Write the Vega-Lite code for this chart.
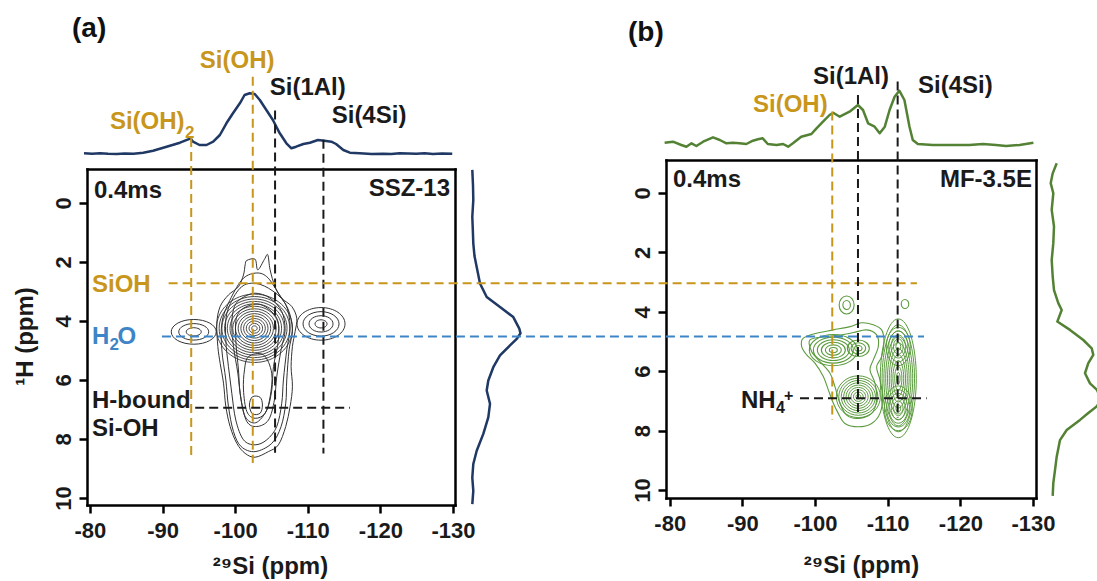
{
"$schema": "https://vega.github.io/schema/vega-lite/v6.json",
"width": 1097, "height": 581,
"autosize": {"type": "none"},
"padding": 0,
"background": "white",
"config": {
  "view": {"stroke": null},
  "font": "Liberation Sans",
  "axis": {"domainColor": "#000", "domainWidth": 2.5, "domainCap": "square", "grid": false, "tickColor": "#000", "tickWidth": 2.5, "tickSize": 8, "labelFont": "Liberation Sans", "labelFontSize": 22, "labelFontWeight": "bold", "labelColor": "#1a1a1a", "labelFlush": false, "labelOverlap": false, "labelBound": false, "titleFont": "Liberation Sans", "titleFontSize": 24, "titleFontWeight": "bold", "titleColor": "#1a1a1a"}
},
"resolve": {"scale": {"x": "independent", "y": "independent", "size": "independent", "color": "independent"}, "axis": {"x": "independent", "y": "independent"}},
"datasets": {
  "tailA": [
    {"c":1,"i":1,"x":-101.61,"y":1.95},{"c":1,"i":2,"x":-102.75,"y":1.91},{"c":1,"i":3,"x":-103.12,"y":2.27},{"c":1,"i":4,"x":-104.04,"y":1.91},{"c":1,"i":5,"x":-104.5,"y":1.76},{"c":1,"i":6,"x":-104.82,"y":2.27},{"c":1,"i":7,"x":-105.5,"y":2.84},{"c":1,"i":8,"x":-106.42,"y":3.23},{"c":1,"i":9,"x":-107.8,"y":3.51},{"c":1,"i":10,"x":-108.49,"y":3.91},{"c":1,"i":11,"x":-108.26,"y":4.36},{"c":1,"i":12,"x":-107.89,"y":4.87},{"c":1,"i":13,"x":-107.71,"y":5.55},{"c":1,"i":14,"x":-107.89,"y":6.23},{"c":1,"i":15,"x":-107.57,"y":6.9},{"c":1,"i":16,"x":-106.97,"y":7.58},{"c":1,"i":17,"x":-105.96,"y":8.2},{"c":1,"i":18,"x":-104.59,"y":8.43},{"c":1,"i":19,"x":-102.75,"y":8.62},{"c":1,"i":20,"x":-101.38,"y":8.49},{"c":1,"i":21,"x":-100.23,"y":8.15},{"c":1,"i":22,"x":-99.31,"y":7.58},{"c":1,"i":23,"x":-98.72,"y":6.9},{"c":1,"i":24,"x":-98.4,"y":6.11},{"c":1,"i":25,"x":-97.94,"y":5.44},{"c":1,"i":26,"x":-97.62,"y":4.87},{"c":1,"i":27,"x":-97.48,"y":4.08},{"c":1,"i":28,"x":-97.94,"y":3.51},{"c":1,"i":29,"x":-99.08,"y":3.12},{"c":1,"i":30,"x":-100.46,"y":2.84},{"c":1,"i":31,"x":-101.15,"y":2.44},{"c":1,"i":32,"x":-101.38,"y":2.1},
    {"c":6,"i":1,"x":-100.92,"y":2.61},{"c":6,"i":2,"x":-102.75,"y":2.38},{"c":6,"i":3,"x":-104.36,"y":2.5},{"c":6,"i":4,"x":-105.96,"y":3.06},{"c":6,"i":5,"x":-107.34,"y":3.63},{"c":6,"i":6,"x":-107.89,"y":4.31},{"c":6,"i":7,"x":-107.43,"y":4.98},{"c":6,"i":8,"x":-107.11,"y":6.0},{"c":6,"i":9,"x":-106.97,"y":6.79},{"c":6,"i":10,"x":-106.33,"y":7.58},{"c":6,"i":11,"x":-105.05,"y":8.15},{"c":6,"i":12,"x":-102.75,"y":8.43},{"c":6,"i":13,"x":-100.83,"y":8.26},{"c":6,"i":14,"x":-99.77,"y":7.75},{"c":6,"i":15,"x":-99.08,"y":6.9},{"c":6,"i":16,"x":-98.72,"y":6.0},{"c":6,"i":17,"x":-98.17,"y":4.98},{"c":6,"i":18,"x":-98.17,"y":4.08},{"c":6,"i":19,"x":-99.08,"y":3.4},
    {"c":2,"i":1,"x":-100.46,"y":2.95},{"c":2,"i":2,"x":-102.29,"y":2.72},{"c":2,"i":3,"x":-104.59,"y":2.89},{"c":2,"i":4,"x":-106.88,"y":3.4},{"c":2,"i":5,"x":-107.57,"y":4.19},{"c":2,"i":6,"x":-107.11,"y":4.98},{"c":2,"i":7,"x":-106.65,"y":6.0},{"c":2,"i":8,"x":-106.42,"y":6.79},{"c":2,"i":9,"x":-105.73,"y":7.58},{"c":2,"i":10,"x":-104.36,"y":8.03},{"c":2,"i":11,"x":-102.75,"y":8.2},{"c":2,"i":12,"x":-101.15,"y":8.03},{"c":2,"i":13,"x":-100.09,"y":7.36},{"c":2,"i":14,"x":-99.54,"y":6.45},{"c":2,"i":15,"x":-99.08,"y":5.55},{"c":2,"i":16,"x":-98.72,"y":4.64},{"c":2,"i":17,"x":-98.86,"y":3.74},
    {"c":3,"i":1,"x":-100.92,"y":3.23},{"c":3,"i":2,"x":-102.75,"y":3.06},{"c":3,"i":3,"x":-104.82,"y":3.23},{"c":3,"i":4,"x":-106.42,"y":3.68},{"c":3,"i":5,"x":-106.88,"y":4.31},{"c":3,"i":6,"x":-106.33,"y":4.98},{"c":3,"i":7,"x":-105.73,"y":5.89},{"c":3,"i":8,"x":-105.41,"y":6.68},{"c":3,"i":9,"x":-104.59,"y":7.36},{"c":3,"i":10,"x":-102.98,"y":7.58},{"c":3,"i":11,"x":-101.61,"y":7.41},{"c":3,"i":12,"x":-100.83,"y":6.68},{"c":3,"i":13,"x":-100.37,"y":5.77},{"c":3,"i":14,"x":-99.77,"y":4.87},{"c":3,"i":15,"x":-99.54,"y":4.08},{"c":3,"i":16,"x":-99.91,"y":3.51},
    {"c":7,"i":1,"x":-101.61,"y":3.51},{"c":7,"i":2,"x":-103.67,"y":3.46},{"c":7,"i":3,"x":-105.73,"y":3.91},{"c":7,"i":4,"x":-105.96,"y":4.64},{"c":7,"i":5,"x":-105.28,"y":5.55},{"c":7,"i":6,"x":-105.05,"y":6.34},{"c":7,"i":7,"x":-104.36,"y":7.02},{"c":7,"i":8,"x":-102.85,"y":7.45},{"c":7,"i":9,"x":-101.38,"y":7.24},{"c":7,"i":10,"x":-100.69,"y":6.45},{"c":7,"i":11,"x":-100.46,"y":5.66},{"c":7,"i":12,"x":-100.09,"y":4.64},{"c":7,"i":13,"x":-100.23,"y":3.85},
    {"c":4,"i":1,"x":-101.84,"y":5.21},{"c":4,"i":2,"x":-103.9,"y":5.15},{"c":4,"i":3,"x":-105.04,"y":5.77},{"c":4,"i":4,"x":-104.82,"y":6.57},{"c":4,"i":5,"x":-104.13,"y":7.13},{"c":4,"i":6,"x":-102.75,"y":7.3},{"c":4,"i":7,"x":-101.61,"y":7.07},{"c":4,"i":8,"x":-101.15,"y":6.34},{"c":4,"i":9,"x":-101.29,"y":5.66},
    {"c":5,"i":1,"x":-102.39,"y":6.57},{"c":5,"i":2,"x":-103.44,"y":6.59},{"c":5,"i":3,"x":-103.76,"y":6.85},{"c":5,"i":4,"x":-103.44,"y":7.13},{"c":5,"i":5,"x":-102.39,"y":7.15},{"c":5,"i":6,"x":-101.97,"y":6.85}
  ],
  "coreA": [
    {"x":-102.66,"y":4.25,"ring":1},{"x":-102.66,"y":4.25,"ring":2},{"x":-102.66,"y":4.25,"ring":3},{"x":-102.66,"y":4.25,"ring":4},{"x":-102.66,"y":4.25,"ring":5},{"x":-102.66,"y":4.25,"ring":6},{"x":-102.66,"y":4.25,"ring":7},{"x":-102.66,"y":4.25,"ring":8},{"x":-102.66,"y":4.25,"ring":9},{"x":-102.66,"y":4.25,"ring":10},{"x":-102.66,"y":4.25,"ring":11},{"x":-102.66,"y":4.25,"ring":12},{"x":-102.66,"y":4.25,"ring":13},{"x":-102.66,"y":4.25,"ring":14}
  ],
  "leftA": [{"x":-94.3,"y":4.37,"ring":1},{"x":-94.3,"y":4.37,"ring":2},{"x":-94.3,"y":4.37,"ring":3}],
  "rightA": [{"x":-111.83,"y":4.1,"ring":1},{"x":-111.83,"y":4.1,"ring":2},{"x":-111.83,"y":4.1,"ring":3},{"x":-111.83,"y":4.1,"ring":4}],
  "envB": [
    {"c":1,"i":1,"x":-98.39,"y":4.89},{"c":1,"i":2,"x":-100.22,"y":4.72},{"c":1,"i":3,"x":-102.52,"y":4.61},{"c":1,"i":4,"x":-104.81,"y":4.5},{"c":1,"i":5,"x":-106.41,"y":4.37},{"c":1,"i":6,"x":-108.02,"y":4.44},{"c":1,"i":7,"x":-109.17,"y":4.61},{"c":1,"i":8,"x":-109.49,"y":5.01},{"c":1,"i":9,"x":-109.17,"y":5.51},{"c":1,"i":10,"x":-108.48,"y":5.85},{"c":1,"i":11,"x":-108.94,"y":6.3},{"c":1,"i":12,"x":-109.3,"y":6.86},{"c":1,"i":13,"x":-108.94,"y":7.42},{"c":1,"i":14,"x":-107.79,"y":7.76},{"c":1,"i":15,"x":-105.96,"y":7.87},{"c":1,"i":16,"x":-104.12,"y":7.76},{"c":1,"i":17,"x":-103.2,"y":7.42},{"c":1,"i":18,"x":-102.52,"y":7.08},{"c":1,"i":19,"x":-101.83,"y":6.63},{"c":1,"i":20,"x":-101.14,"y":6.18},{"c":1,"i":21,"x":-99.99,"y":5.73},{"c":1,"i":22,"x":-98.85,"y":5.45},{"c":1,"i":23,"x":-98.16,"y":5.17},
    {"c":2,"i":1,"x":-99.3,"y":4.95},{"c":2,"i":2,"x":-101.37,"y":4.84},{"c":2,"i":3,"x":-103.43,"y":4.78},{"c":2,"i":4,"x":-105.27,"y":4.7},{"c":2,"i":5,"x":-107.1,"y":4.61},{"c":2,"i":6,"x":-108.48,"y":4.78},{"c":2,"i":7,"x":-108.71,"y":5.17},{"c":2,"i":8,"x":-108.02,"y":5.62},{"c":2,"i":9,"x":-107.56,"y":5.96},{"c":2,"i":10,"x":-108.25,"y":6.41},{"c":2,"i":11,"x":-108.48,"y":6.97},{"c":2,"i":12,"x":-107.79,"y":7.42},{"c":2,"i":13,"x":-105.96,"y":7.59},{"c":2,"i":14,"x":-104.35,"y":7.48},{"c":2,"i":15,"x":-103.43,"y":7.08},{"c":2,"i":16,"x":-102.74,"y":6.52},{"c":2,"i":17,"x":-102.06,"y":6.07},{"c":2,"i":18,"x":-100.68,"y":5.68},{"c":2,"i":19,"x":-99.53,"y":5.34}
  ],
  "smallB": [{"x":-104.35,"y":3.77,"ring":1},{"x":-104.35,"y":3.77,"ring":2},{"x":-112.38,"y":3.74,"ring":1}],
  "p1B": [{"x":-102.52,"y":5.29,"ring":1},{"x":-102.52,"y":5.29,"ring":2},{"x":-102.52,"y":5.29,"ring":3},{"x":-102.52,"y":5.29,"ring":4},{"x":-102.52,"y":5.29,"ring":5},{"x":-102.52,"y":5.29,"ring":6}],
  "p2B": [{"x":-105.96,"y":5.23,"ring":1},{"x":-105.96,"y":5.23,"ring":2},{"x":-105.96,"y":5.23,"ring":3}],
  "p3B": [{"x":-105.96,"y":6.86,"ring":1},{"x":-105.96,"y":6.86,"ring":2},{"x":-105.96,"y":6.86,"ring":3},{"x":-105.96,"y":6.86,"ring":4},{"x":-105.96,"y":6.86,"ring":5},{"x":-105.96,"y":6.86,"ring":6},{"x":-105.96,"y":6.86,"ring":7},{"x":-105.96,"y":6.86,"ring":8},{"x":-105.96,"y":6.86,"ring":9}],
  "colB": [{"x":-111.46,"y":6.24,"ring":1},{"x":-111.46,"y":6.24,"ring":2},{"x":-111.46,"y":6.24,"ring":3},{"x":-111.46,"y":6.24,"ring":4},{"x":-111.46,"y":6.24,"ring":5},{"x":-111.46,"y":6.24,"ring":6},{"x":-111.46,"y":6.24,"ring":7},{"x":-111.46,"y":6.24,"ring":8},{"x":-111.46,"y":6.24,"ring":9},{"x":-111.46,"y":6.24,"ring":10}],
  "colUpB": [{"x":-111.46,"y":5.17,"ring":1},{"x":-111.46,"y":5.17,"ring":2},{"x":-111.46,"y":5.17,"ring":3},{"x":-111.46,"y":5.17,"ring":4},{"x":-111.46,"y":5.17,"ring":5}],
  "colLowB": [{"x":-111.46,"y":7.25,"ring":1},{"x":-111.46,"y":7.25,"ring":2},{"x":-111.46,"y":7.25,"ring":3},{"x":-111.46,"y":7.25,"ring":4},{"x":-111.46,"y":7.25,"ring":5},{"x":-111.46,"y":7.25,"ring":6}],
  "topA": [
    {"x":-79.19,"v":0.7},{"x":-80.3,"v":0.3},{"x":-81.4,"v":0.7},{"x":-82.5,"v":0.2},{"x":-83.7,"v":0},{"x":-84.8,"v":0.6},{"x":-86.0,"v":0.2},{"x":-87.35,"v":1.3},{"x":-88.7,"v":3.3},{"x":-90.56,"v":7.3},{"x":-92.4,"v":11.3},{"x":-93.54,"v":14.7},{"x":-93.86,"v":15.7},{"x":-94.2,"v":12.3},{"x":-95.1,"v":9},{"x":-96.06,"v":9},{"x":-96.98,"v":12.3},{"x":-97.9,"v":19},{"x":-98.8,"v":30.7},{"x":-99.7,"v":40.7},{"x":-100.65,"v":50.7},{"x":-101.3,"v":59},{"x":-102.0,"v":60.7},{"x":-102.7,"v":60},{"x":-103.4,"v":54},{"x":-104.3,"v":44},{"x":-105.2,"v":34},{"x":-106.15,"v":20.7},{"x":-107.06,"v":10.7},{"x":-107.75,"v":5.7},{"x":-108.4,"v":7.3},{"x":-109.4,"v":10},{"x":-110.3,"v":11.3},{"x":-111.4,"v":14},{"x":-112.3,"v":13.3},{"x":-113.25,"v":12.3},{"x":-113.9,"v":10},{"x":-114.9,"v":4},{"x":-115.8,"v":1.3},{"x":-117.15,"v":0.7},{"x":-118.8,"v":0},{"x":-120.4,"v":0.3},{"x":-121.5,"v":0},{"x":-122.65,"v":0.7},{"x":-124.95,"v":0.2},{"x":-126.1,"v":0.8},{"x":-127.24,"v":0},{"x":-128.5,"v":0.5},{"x":-129.9,"v":0.3}
  ],
  "sideA": [
    {"y":-1.12,"v":0.3},{"y":-0.6,"v":1.0},{"y":-0.1,"v":1.3},{"y":0.47,"v":0.3},{"y":0.9,"v":0.8},{"y":1.37,"v":1.3},{"y":1.8,"v":2.5},{"y":2.17,"v":4.7},{"y":2.73,"v":8},{"y":3.19,"v":14.7},{"y":3.53,"v":28},{"y":3.87,"v":41.3},{"y":4.26,"v":47.3},{"y":4.42,"v":48.5},{"y":4.6,"v":45},{"y":4.83,"v":38},{"y":5.17,"v":28},{"y":5.57,"v":21.3},{"y":6.02,"v":16.3},{"y":6.36,"v":14.7},{"y":6.81,"v":18},{"y":7.27,"v":16.3},{"y":7.83,"v":11.3},{"y":8.4,"v":4.7},{"y":8.85,"v":1.3},{"y":9.31,"v":0.3},{"y":9.76,"v":1.3},{"y":10.21,"v":0.3}
  ],
  "topB": [
    {"x":-79.3,"v":4.3},{"x":-80.45,"v":5.3},{"x":-81.6,"v":2},{"x":-82.3,"v":0.3},{"x":-83.0,"v":3.7},{"x":-83.67,"v":1},{"x":-84.6,"v":5.3},{"x":-85.96,"v":9.7},{"x":-86.9,"v":7},{"x":-87.8,"v":3.7},{"x":-88.7,"v":4.3},{"x":-89.6,"v":3.7},{"x":-90.55,"v":3},{"x":-91.45,"v":6.3},{"x":-92.15,"v":7.7},{"x":-92.8,"v":8.7},{"x":-93.5,"v":3},{"x":-94.7,"v":2},{"x":-95.6,"v":3},{"x":-96.3,"v":0.3},{"x":-96.96,"v":3.7},{"x":-98.1,"v":10.3},{"x":-99.5,"v":13},{"x":-100.2,"v":18.7},{"x":-101.1,"v":25.3},{"x":-102.0,"v":32},{"x":-102.5,"v":34.3},{"x":-103.4,"v":30.3},{"x":-104.75,"v":35.3},{"x":-105.9,"v":42},{"x":-106.6,"v":37},{"x":-107.3,"v":23.7},{"x":-108.2,"v":20.3},{"x":-108.9,"v":13.7},{"x":-109.6,"v":20.3},{"x":-110.26,"v":37},{"x":-110.95,"v":50.3},{"x":-111.6,"v":56.3},{"x":-112.3,"v":47},{"x":-113.0,"v":20.3},{"x":-113.45,"v":7},{"x":-114.15,"v":3},{"x":-116.2,"v":2},{"x":-119.0,"v":2},{"x":-121.25,"v":2},{"x":-123.1,"v":3},{"x":-124.9,"v":2},{"x":-126.3,"v":1},{"x":-128.15,"v":2},{"x":-130.05,"v":4.3}
  ],
  "sideB": [
    {"y":-1.0,"v":6.7},{"y":-0.66,"v":2.7},{"y":-0.33,"v":0.7},{"y":0.01,"v":3.3},{"y":0.57,"v":1.7},{"y":1.13,"v":4},{"y":1.69,"v":3.3},{"y":2.26,"v":1.7},{"y":2.82,"v":2.7},{"y":3.27,"v":4},{"y":3.71,"v":8.3},{"y":3.94,"v":11.7},{"y":4.33,"v":7.3},{"y":4.61,"v":20},{"y":4.95,"v":33.3},{"y":5.23,"v":41.7},{"y":5.45,"v":43.3},{"y":5.73,"v":38.3},{"y":6.07,"v":35},{"y":6.41,"v":40},{"y":6.63,"v":47},{"y":6.86,"v":50},{"y":7.02,"v":50},{"y":7.19,"v":46.7},{"y":7.42,"v":38},{"y":7.64,"v":30},{"y":7.98,"v":16.7},{"y":8.32,"v":10},{"y":8.88,"v":6.7},{"y":9.33,"v":5},{"y":9.77,"v":3.3},{"y":10.2,"v":2.7}
  ],
  "vA": [{"x":-93.95,"y":-2.2,"y2":8.66,"k":"SiOH"},{"x":-102.43,"y":-4.28,"y2":8.82,"k":"SiOH"},{"x":-105.5,"y":-3.13,"y2":8.47,"k":"other"},{"x":-112.16,"y":-2.14,"y2":8.49,"k":"other"}],
  "hA": [{"y":2.72,"x":-90.84,"x2":-193.9,"k":"SiOH"},{"y":4.53,"x":-89.92,"x2":-194.87,"k":"H2O"},{"y":6.94,"x":-94.5,"x2":-115.82,"k":"other"}],
  "vB": [{"x":-102.37,"y":-2.74,"y2":7.64,"k":"SiOH"},{"x":-105.91,"y":-3.3,"y2":7.47,"k":"other"},{"x":-111.37,"y":-3.75,"y2":7.58,"k":"other"}],
  "hB": [{"y":6.91,"x":-97.93,"x2":-115.36,"k":"other"}],
  "txtA": [
    {"t":"Si(OH)","x":-95.14,"y":-4.81,"k":"SiOH"},{"t":"Si(1Al)","x":-104.77,"y":-3.9,"k":"other"},{"t":"Si(4Si)","x":-113.3,"y":-2.95,"k":"other"},{"t":"Si(OH)","x":-82.76,"y":-2.75,"k":"SiOH"},{"t":"0.4ms","x":-80.56,"y":-0.41,"k":"other"},{"t":"SSZ-13","x":-118.39,"y":-0.47,"k":"other"},{"t":"SiOH","x":-80.29,"y":2.78,"k":"SiOH"},{"t":"H","x":-80.29,"y":4.54,"k":"H2O"},{"t":"O","x":-83.8,"y":4.54,"k":"H2O"},{"t":"H-bound","x":-80.29,"y":6.71,"k":"other"},{"t":"Si-OH","x":-80.29,"y":7.66,"k":"other"}
  ],
  "subA": [{"t":"2","x":-93.08,"y":-2.37,"k":"SiOH"},{"t":"2","x":-82.7,"y":4.81,"k":"H2O"}],
  "panA": [{"t":"(a)","x":-77.54,"y":-5.9}],
  "txtB": [
    {"t":"Si(1Al)","x":-99.72,"y":-3.91,"k":"other"},{"t":"Si(4Si)","x":-114.17,"y":-3.6,"k":"other"},{"t":"Si(OH)","x":-91.46,"y":-2.96,"k":"SiOH"},{"t":"0.4ms","x":-80.45,"y":-0.44,"k":"other"},{"t":"MF-3.5E","x":-117.19,"y":-0.44,"k":"other"},{"t":"NH","x":-89.81,"y":7.0,"k":"other"}
  ],
  "subB": [{"t":"4","x":-94.63,"y":7.24,"k":"other"},{"t":"+","x":-95.73,"y":6.84,"k":"other"}],
  "panB": [{"t":"(b)","x":-74.26,"y":-5.39}]
},
"layer": [
  {"data": {"name": "tailA"}, "mark": {"type": "line", "interpolate": "cardinal-closed", "color": "#333333", "strokeWidth": 1},
   "encoding": {"x": {"field": "x", "type": "quantitative", "scale": {"domain": [-79.6, -130.28], "range": [87, 455], "zero": false, "nice": false}, "axis": null},
                "y": {"field": "y", "type": "quantitative", "scale": {"domain": [-1.15, 10.24], "range": [169, 505], "zero": false, "nice": false}, "axis": null},
                "detail": {"field": "c"}, "order": {"field": "i"}}},
  {"data": {"name": "coreA"}, "mark": {"type": "point", "shape": "M-1,0A1,0.9,0,1,0,1,0A1,0.9,0,1,0,-1,0Z", "filled": false, "color": "#333333", "strokeWidth": 0.9, "opacity": 1},
   "encoding": {"x": {"field": "x", "type": "quantitative", "scale": {"domain": [-79.6, -130.28], "range": [87, 455], "zero": false, "nice": false}, "axis": null},
                "y": {"field": "y", "type": "quantitative", "scale": {"domain": [-1.15, 10.24], "range": [169, 505], "zero": false, "nice": false}, "axis": null},
                "size": {"field": "ring", "type": "quantitative", "scale": {"type": "pow", "exponent": 2, "domain": [0, 14], "range": [0, 5776]}, "legend": null}}},
  {"data": {"name": "leftA"}, "mark": {"type": "point", "shape": "M-1,0A1,0.55,0,1,0,1,0A1,0.55,0,1,0,-1,0Z", "filled": false, "color": "#333333", "strokeWidth": 1, "opacity": 1},
   "encoding": {"x": {"field": "x", "type": "quantitative", "scale": {"domain": [-79.6, -130.28], "range": [87, 455], "zero": false, "nice": false}, "axis": null},
                "y": {"field": "y", "type": "quantitative", "scale": {"domain": [-1.15, 10.24], "range": [169, 505], "zero": false, "nice": false}, "axis": null},
                "size": {"field": "ring", "type": "quantitative", "scale": {"type": "pow", "exponent": 2, "domain": [0, 3], "range": [0, 2025]}, "legend": null}}},
  {"data": {"name": "rightA"}, "mark": {"type": "point", "shape": "M-1,0A1,0.68,0,1,0,1,0A1,0.68,0,1,0,-1,0Z", "filled": false, "color": "#333333", "strokeWidth": 1, "opacity": 1},
   "encoding": {"x": {"field": "x", "type": "quantitative", "scale": {"domain": [-79.6, -130.28], "range": [87, 455], "zero": false, "nice": false}, "axis": null},
                "y": {"field": "y", "type": "quantitative", "scale": {"domain": [-1.15, 10.24], "range": [169, 505], "zero": false, "nice": false}, "axis": null},
                "size": {"field": "ring", "type": "quantitative", "scale": {"type": "pow", "exponent": 2, "domain": [0, 4], "range": [0, 2304]}, "legend": null}}},
  {"data": {"name": "envB"}, "mark": {"type": "line", "interpolate": "cardinal-closed", "color": "#5b9b3e", "strokeWidth": 1.1},
   "encoding": {"x": {"field": "x", "type": "quantitative", "scale": {"domain": [-79.49, -130.41], "range": [666, 1036], "zero": false, "nice": false}, "axis": null},
                "y": {"field": "y", "type": "quantitative", "scale": {"domain": [-1.11, 10.27], "range": [160, 498], "zero": false, "nice": false}, "axis": null},
                "detail": {"field": "c"}, "order": {"field": "i"}}},
  {"data": {"name": "smallB"}, "mark": {"type": "point", "shape": "M-1,0A1,1.2,0,1,0,1,0A1,1.2,0,1,0,-1,0Z", "filled": false, "color": "#5b9b3e", "strokeWidth": 1.1, "opacity": 1},
   "encoding": {"x": {"field": "x", "type": "quantitative", "scale": {"domain": [-79.49, -130.41], "range": [666, 1036], "zero": false, "nice": false}, "axis": null},
                "y": {"field": "y", "type": "quantitative", "scale": {"domain": [-1.11, 10.27], "range": [160, 498], "zero": false, "nice": false}, "axis": null},
                "size": {"field": "ring", "type": "quantitative", "scale": {"type": "pow", "exponent": 2, "domain": [0, 2], "range": [0, 225]}, "legend": null}}},
  {"data": {"name": "p1B"}, "mark": {"type": "point", "shape": "M-1,0A1,0.65,0,1,0,1,0A1,0.65,0,1,0,-1,0Z", "filled": false, "color": "#5b9b3e", "strokeWidth": 1.1, "opacity": 1},
   "encoding": {"x": {"field": "x", "type": "quantitative", "scale": {"domain": [-79.49, -130.41], "range": [666, 1036], "zero": false, "nice": false}, "axis": null},
                "y": {"field": "y", "type": "quantitative", "scale": {"domain": [-1.11, 10.27], "range": [160, 498], "zero": false, "nice": false}, "axis": null},
                "size": {"field": "ring", "type": "quantitative", "scale": {"type": "pow", "exponent": 2, "domain": [0, 6], "range": [0, 2304]}, "legend": null}}},
  {"data": {"name": "p2B"}, "mark": {"type": "point", "shape": "M-1,0A1,0.75,0,1,0,1,0A1,0.75,0,1,0,-1,0Z", "filled": false, "color": "#5b9b3e", "strokeWidth": 1.1, "opacity": 1},
   "encoding": {"x": {"field": "x", "type": "quantitative", "scale": {"domain": [-79.49, -130.41], "range": [666, 1036], "zero": false, "nice": false}, "axis": null},
                "y": {"field": "y", "type": "quantitative", "scale": {"domain": [-1.11, 10.27], "range": [160, 498], "zero": false, "nice": false}, "axis": null},
                "size": {"field": "ring", "type": "quantitative", "scale": {"type": "pow", "exponent": 2, "domain": [0, 3], "range": [0, 484]}, "legend": null}}},
  {"data": {"name": "p3B"}, "mark": {"type": "point", "shape": "M-1,0A1,0.95,0,1,0,1,0A1,0.95,0,1,0,-1,0Z", "filled": false, "color": "#5b9b3e", "strokeWidth": 1, "opacity": 1},
   "encoding": {"x": {"field": "x", "type": "quantitative", "scale": {"domain": [-79.49, -130.41], "range": [666, 1036], "zero": false, "nice": false}, "axis": null},
                "y": {"field": "y", "type": "quantitative", "scale": {"domain": [-1.11, 10.27], "range": [160, 498], "zero": false, "nice": false}, "axis": null},
                "size": {"field": "ring", "type": "quantitative", "scale": {"type": "pow", "exponent": 2, "domain": [0, 9], "range": [0, 1936]}, "legend": null}}},
  {"data": {"name": "colB"}, "mark": {"type": "point", "shape": "M-1,0A1,3.3,0,1,0,1,0A1,3.3,0,1,0,-1,0Z", "filled": false, "color": "#5b9b3e", "strokeWidth": 1, "opacity": 1},
   "encoding": {"x": {"field": "x", "type": "quantitative", "scale": {"domain": [-79.49, -130.41], "range": [666, 1036], "zero": false, "nice": false}, "axis": null},
                "y": {"field": "y", "type": "quantitative", "scale": {"domain": [-1.11, 10.27], "range": [160, 498], "zero": false, "nice": false}, "axis": null},
                "size": {"field": "ring", "type": "quantitative", "scale": {"type": "pow", "exponent": 2, "domain": [0, 10], "range": [0, 1296]}, "legend": null}}},
  {"data": {"name": "colUpB"}, "mark": {"type": "point", "shape": "M-1,0A1,1.6,0,1,0,1,0A1,1.6,0,1,0,-1,0Z", "filled": false, "color": "#5b9b3e", "strokeWidth": 1, "opacity": 1},
   "encoding": {"x": {"field": "x", "type": "quantitative", "scale": {"domain": [-79.49, -130.41], "range": [666, 1036], "zero": false, "nice": false}, "axis": null},
                "y": {"field": "y", "type": "quantitative", "scale": {"domain": [-1.11, 10.27], "range": [160, 498], "zero": false, "nice": false}, "axis": null},
                "size": {"field": "ring", "type": "quantitative", "scale": {"type": "pow", "exponent": 2, "domain": [0, 5], "range": [0, 576]}, "legend": null}}},
  {"data": {"name": "colLowB"}, "mark": {"type": "point", "shape": "M-1,0A1,1.6,0,1,0,1,0A1,1.6,0,1,0,-1,0Z", "filled": false, "color": "#5b9b3e", "strokeWidth": 1, "opacity": 1},
   "encoding": {"x": {"field": "x", "type": "quantitative", "scale": {"domain": [-79.49, -130.41], "range": [666, 1036], "zero": false, "nice": false}, "axis": null},
                "y": {"field": "y", "type": "quantitative", "scale": {"domain": [-1.11, 10.27], "range": [160, 498], "zero": false, "nice": false}, "axis": null},
                "size": {"field": "ring", "type": "quantitative", "scale": {"type": "pow", "exponent": 2, "domain": [0, 6], "range": [0, 784]}, "legend": null}}},
  {"data": {"name": "topA"}, "mark": {"type": "line", "color": "#1f3864", "strokeWidth": 2.5, "strokeJoin": "round"},
   "encoding": {"x": {"field": "x", "type": "quantitative", "scale": {"domain": [-79.6, -130.28], "range": [87, 455], "zero": false, "nice": false}, "axis": null},
                "y": {"field": "v", "type": "quantitative", "scale": {"domain": [0, 60], "range": [154, 94], "zero": false, "nice": false}, "axis": null}}},
  {"data": {"name": "sideA"}, "mark": {"type": "line", "color": "#1f3864", "strokeWidth": 2.5, "strokeJoin": "round"},
   "encoding": {"x": {"field": "v", "type": "quantitative", "scale": {"domain": [0, 50], "range": [472, 522], "zero": false, "nice": false}, "axis": null},
                "y": {"field": "y", "type": "quantitative", "scale": {"domain": [-1.15, 10.24], "range": [169, 505], "zero": false, "nice": false}, "axis": null},
                "order": {"field": "y"}}},
  {"data": {"name": "topB"}, "mark": {"type": "line", "color": "#548235", "strokeWidth": 2.5, "strokeJoin": "round"},
   "encoding": {"x": {"field": "x", "type": "quantitative", "scale": {"domain": [-79.49, -130.41], "range": [666, 1036], "zero": false, "nice": false}, "axis": null},
                "y": {"field": "v", "type": "quantitative", "scale": {"domain": [0, 60], "range": [147, 87], "zero": false, "nice": false}, "axis": null}}},
  {"data": {"name": "sideB"}, "mark": {"type": "line", "color": "#548235", "strokeWidth": 2.5, "strokeJoin": "round"},
   "encoding": {"x": {"field": "v", "type": "quantitative", "scale": {"domain": [0, 50], "range": [1050, 1100], "zero": false, "nice": false}, "axis": null},
                "y": {"field": "y", "type": "quantitative", "scale": {"domain": [-1.11, 10.27], "range": [160, 498], "zero": false, "nice": false}, "axis": null},
                "order": {"field": "y"}}},
  {"data": {"name": "vA"}, "mark": {"type": "rule", "strokeDash": [9, 5], "strokeWidth": 2},
   "encoding": {"x": {"field": "x", "type": "quantitative", "scale": {"domain": [-79.6, -130.28], "range": [87, 455], "zero": false, "nice": false},
                      "axis": {"orient": "bottom", "offset": -76, "values": [-80, -90, -100, -110, -120, -130], "labelExpr": "'-' + format(abs(datum.value), 'd')", "labelPadding": 7, "labelBaseline": "top", "labelAlign": "center", "title": "²⁹Si (ppm)", "titleX": 270, "titleY": 61, "titleAlign": "center", "titleBaseline": "middle", "titleAngle": 0}},
                "y": {"field": "y", "type": "quantitative", "scale": {"domain": [-1.15, 10.24], "range": [169, 505], "zero": false, "nice": false},
                      "axis": {"orient": "left", "offset": -87, "values": [0, 2, 4, 6, 8, 10], "labelAngle": 270, "labelAlign": "center", "labelBaseline": "bottom", "labelPadding": 4, "title": "¹H (ppm)", "titleX": -62, "titleY": 336, "titleAngle": 270, "titleAlign": "center", "titleBaseline": "middle"}},
                "y2": {"field": "y2"},
                "color": {"field": "k", "type": "nominal", "scale": {"domain": ["SiOH", "H2O", "other"], "range": ["#c8961a", "#3d85c6", "#1a1a1a"]}, "legend": null}}},
  {"data": {"name": "hA"}, "mark": {"type": "rule", "strokeDash": [9, 5], "strokeWidth": 2},
   "encoding": {"x": {"field": "x", "type": "quantitative", "scale": {"domain": [-79.6, -130.28], "range": [87, 455], "zero": false, "nice": false},
                      "axis": {"orient": "top", "offset": -169, "labels": false, "ticks": false, "title": null}},
                "x2": {"field": "x2"},
                "y": {"field": "y", "type": "quantitative", "scale": {"domain": [-1.15, 10.24], "range": [169, 505], "zero": false, "nice": false},
                      "axis": {"orient": "right", "offset": -642, "labels": false, "ticks": false, "title": null}},
                "color": {"field": "k", "type": "nominal", "scale": {"domain": ["SiOH", "H2O", "other"], "range": ["#c8961a", "#3d85c6", "#1a1a1a"]}, "legend": null}}},
  {"data": {"name": "vB"}, "mark": {"type": "rule", "strokeDash": [9, 5], "strokeWidth": 2},
   "encoding": {"x": {"field": "x", "type": "quantitative", "scale": {"domain": [-79.49, -130.41], "range": [666, 1036], "zero": false, "nice": false},
                      "axis": {"orient": "bottom", "offset": -83, "values": [-80, -90, -100, -110, -120, -130], "labelExpr": "'-' + format(abs(datum.value), 'd')", "labelPadding": 7, "labelBaseline": "top", "labelAlign": "center", "title": "²⁹Si (ppm)", "titleX": 861, "titleY": 67, "titleAlign": "center", "titleBaseline": "middle", "titleAngle": 0}},
                "y": {"field": "y", "type": "quantitative", "scale": {"domain": [-1.11, 10.27], "range": [160, 498], "zero": false, "nice": false},
                      "axis": {"orient": "left", "offset": -666, "values": [0, 2, 4, 6, 8, 10], "labelAngle": 270, "labelAlign": "center", "labelBaseline": "bottom", "labelPadding": 4, "title": null}},
                "y2": {"field": "y2"},
                "color": {"field": "k", "type": "nominal", "scale": {"domain": ["SiOH", "H2O", "other"], "range": ["#c8961a", "#3d85c6", "#1a1a1a"]}, "legend": null}}},
  {"data": {"name": "hB"}, "mark": {"type": "rule", "strokeDash": [9, 5], "strokeWidth": 2},
   "encoding": {"x": {"field": "x", "type": "quantitative", "scale": {"domain": [-79.49, -130.41], "range": [666, 1036], "zero": false, "nice": false},
                      "axis": {"orient": "top", "offset": -160, "labels": false, "ticks": false, "title": null}},
                "x2": {"field": "x2"},
                "y": {"field": "y", "type": "quantitative", "scale": {"domain": [-1.11, 10.27], "range": [160, 498], "zero": false, "nice": false},
                      "axis": {"orient": "right", "offset": -61, "labels": false, "ticks": false, "title": null}},
                "color": {"field": "k", "type": "nominal", "scale": {"domain": ["SiOH", "H2O", "other"], "range": ["#c8961a", "#3d85c6", "#1a1a1a"]}, "legend": null}}},
  {"data": {"name": "txtA"}, "mark": {"type": "text", "align": "left", "baseline": "middle", "fontSize": 24, "fontWeight": "bold", "font": "Liberation Sans"},
   "encoding": {"x": {"field": "x", "type": "quantitative", "scale": {"domain": [-79.6, -130.28], "range": [87, 455], "zero": false, "nice": false}, "axis": null},
                "y": {"field": "y", "type": "quantitative", "scale": {"domain": [-1.15, 10.24], "range": [169, 505], "zero": false, "nice": false}, "axis": null},
                "text": {"field": "t"},
                "color": {"field": "k", "type": "nominal", "scale": {"domain": ["SiOH", "H2O", "other"], "range": ["#c8961a", "#3d85c6", "#1a1a1a"]}, "legend": null}}},
  {"data": {"name": "subA"}, "mark": {"type": "text", "align": "left", "baseline": "middle", "fontSize": 17, "fontWeight": "bold", "font": "Liberation Sans"},
   "encoding": {"x": {"field": "x", "type": "quantitative", "scale": {"domain": [-79.6, -130.28], "range": [87, 455], "zero": false, "nice": false}, "axis": null},
                "y": {"field": "y", "type": "quantitative", "scale": {"domain": [-1.15, 10.24], "range": [169, 505], "zero": false, "nice": false}, "axis": null},
                "text": {"field": "t"},
                "color": {"field": "k", "type": "nominal", "scale": {"domain": ["SiOH", "H2O", "other"], "range": ["#c8961a", "#3d85c6", "#1a1a1a"]}, "legend": null}}},
  {"data": {"name": "panA"}, "mark": {"type": "text", "align": "left", "baseline": "middle", "fontSize": 28, "fontWeight": "bold", "font": "Liberation Sans", "color": "#111"},
   "encoding": {"x": {"field": "x", "type": "quantitative", "scale": {"domain": [-79.6, -130.28], "range": [87, 455], "zero": false, "nice": false}, "axis": null},
                "y": {"field": "y", "type": "quantitative", "scale": {"domain": [-1.15, 10.24], "range": [169, 505], "zero": false, "nice": false}, "axis": null},
                "text": {"field": "t"}}},
  {"data": {"name": "txtB"}, "mark": {"type": "text", "align": "left", "baseline": "middle", "fontSize": 24, "fontWeight": "bold", "font": "Liberation Sans"},
   "encoding": {"x": {"field": "x", "type": "quantitative", "scale": {"domain": [-79.49, -130.41], "range": [666, 1036], "zero": false, "nice": false}, "axis": null},
                "y": {"field": "y", "type": "quantitative", "scale": {"domain": [-1.11, 10.27], "range": [160, 498], "zero": false, "nice": false}, "axis": null},
                "text": {"field": "t"},
                "color": {"field": "k", "type": "nominal", "scale": {"domain": ["SiOH", "H2O", "other"], "range": ["#c8961a", "#3d85c6", "#1a1a1a"]}, "legend": null}}},
  {"data": {"name": "subB"}, "mark": {"type": "text", "align": "left", "baseline": "middle", "fontSize": 16, "fontWeight": "bold", "font": "Liberation Sans", "color": "#1a1a1a"},
   "encoding": {"x": {"field": "x", "type": "quantitative", "scale": {"domain": [-79.49, -130.41], "range": [666, 1036], "zero": false, "nice": false}, "axis": null},
                "y": {"field": "y", "type": "quantitative", "scale": {"domain": [-1.11, 10.27], "range": [160, 498], "zero": false, "nice": false}, "axis": null},
                "text": {"field": "t"}}},
  {"data": {"name": "panB"}, "mark": {"type": "text", "align": "left", "baseline": "middle", "fontSize": 28, "fontWeight": "bold", "font": "Liberation Sans", "color": "#111"},
   "encoding": {"x": {"field": "x", "type": "quantitative", "scale": {"domain": [-79.49, -130.41], "range": [666, 1036], "zero": false, "nice": false}, "axis": null},
                "y": {"field": "y", "type": "quantitative", "scale": {"domain": [-1.11, 10.27], "range": [160, 498], "zero": false, "nice": false}, "axis": null},
                "text": {"field": "t"}}}
]
}
